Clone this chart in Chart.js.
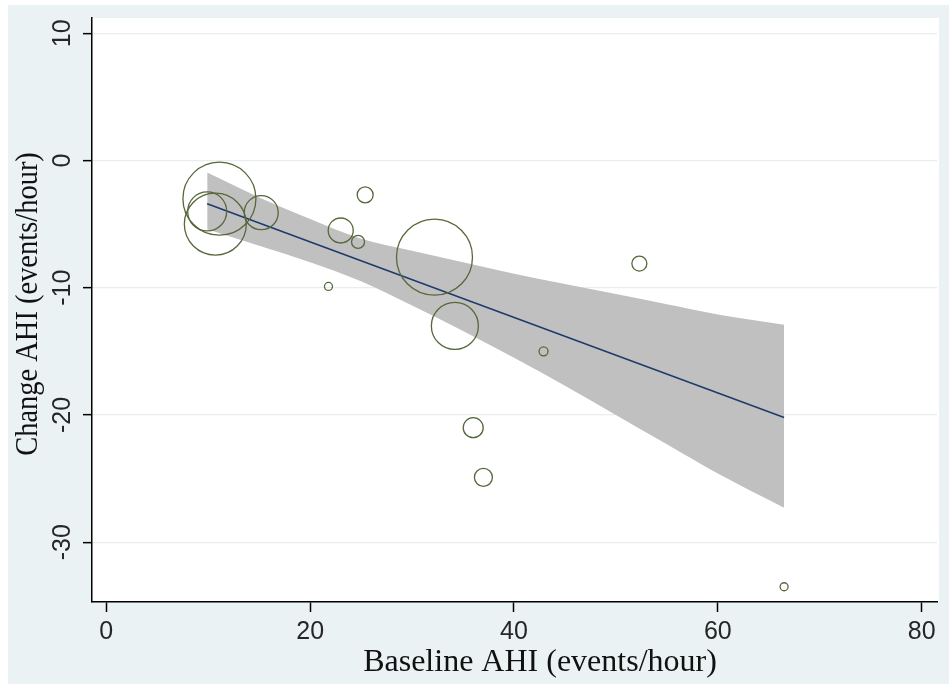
<!DOCTYPE html>
<html>
<head>
<meta charset="utf-8">
<script src="https://cdn.jsdelivr.net/npm/chart.js@4.4.1/dist/chart.umd.min.js"></script>
<style>
  html, body { margin: 0; padding: 0; background: #ffffff; }
  #wrap { width: 949px; height: 684px; }
</style>
</head>
<body>
<div id="wrap"><canvas id="chart" width="949" height="684"></canvas></div>
<script>
// one bubble per study: baseline AHI, change in AHI, weight (drawn as bubble radius)
const baselineAHI = [9.9, 10.7, 11.1, 15.2, 21.8, 23.0, 24.7, 25.4, 32.2, 34.2, 36.0, 37.0, 42.9, 52.3, 66.5];
const changeAHI = [-4.0, -5.0, -3.0, -4.1, -9.9, -5.5, -6.4, -2.7, -7.6, -13.0, -21.0, -24.9, -15.0, -8.1, -33.5];
const studyWeight = [19.5, 31, 36.5, 17, 4, 12.5, 6.5, 8, 38, 23.5, 10, 9, 4.5, 7.5, 4];

// fitted line and its 95% confidence band
const fitX = [9.9, 15, 20, 25, 30, 35, 40, 45, 50, 55, 60, 66.5];
const fitUpper = [-0.95, -2.9, -4.6, -6.15, -7.1, -8.0, -8.9, -9.7, -10.5, -11.3, -12.1, -12.9];
const fitLower = [-5.4, -6.7, -8.0, -9.5, -11.4, -13.4, -15.5, -17.7, -20.0, -22.3, -24.6, -27.3];
const lineX = [9.9, 66.5];
const lineY = [-3.4, -20.2];

const xTicks = [0, 20, 40, 60, 80];
const yTicks = [10, 0, -10, -20, -30];
const xTitle = 'Baseline AHI (events/hour)';
const yTitle = 'Change AHI (events/hour)';

const tickFont = '"Liberation Sans", Arial, sans-serif';
const titleFont = '"Liberation Serif", "Times New Roman", serif';

// light blue graph region with a white plot region, like Stata's s2color scheme
const bgPlugin = {
  id: 'stataBackground',
  beforeDraw(chart) {
    const { ctx, chartArea: a } = chart;
    ctx.save();
    ctx.fillStyle = '#ffffff';
    ctx.fillRect(0, 0, chart.width, chart.height);
    ctx.fillStyle = '#eaf2f3';
    ctx.fillRect(8, 5, chart.width - 8, chart.height - 5);
    ctx.fillStyle = '#ffffff';
    ctx.fillRect(a.left, a.top, a.right - a.left + 2, a.bottom - a.top);
    ctx.restore();
  }
};

// rotated y tick labels and both axis titles
const textPlugin = {
  id: 'axisText',
  afterDraw(chart) {
    const { ctx } = chart;
    const yScale = chart.scales.y;
    ctx.save();
    ctx.fillStyle = '#262626';
    ctx.font = '25px ' + tickFont;
    ctx.textAlign = 'center';
    ctx.textBaseline = 'alphabetic';
    yTicks.forEach(v => {
      const py = yScale.getPixelForValue(v);
      ctx.save();
      ctx.translate(70, py);
      ctx.rotate(-Math.PI / 2);
      ctx.fillText(String(v), 0, 0);
      ctx.restore();
    });

    ctx.fillStyle = '#111111';
    ctx.font = '32px ' + titleFont;
    ctx.fillText(xTitle, 540, 671);

    ctx.save();
    ctx.translate(37, 304);
    ctx.rotate(-Math.PI / 2);
    ctx.scale(0.89, 1);
    ctx.fillText(yTitle, 0, 0);
    ctx.restore();
    ctx.restore();
  }
};

new Chart(document.getElementById('chart'), {
  type: 'bubble',
  data: {
    datasets: [
      {
        type: 'line',
        label: '95% CI lower',
        data: fitX.map((x, i) => ({ x: x, y: fitLower[i] })),
        borderColor: 'rgba(0,0,0,0)',
        borderWidth: 0,
        pointRadius: 0,
        cubicInterpolationMode: 'monotone',
        fill: false,
        order: 3
      },
      {
        type: 'line',
        label: '95% CI upper',
        data: fitX.map((x, i) => ({ x: x, y: fitUpper[i] })),
        borderColor: 'rgba(0,0,0,0)',
        borderWidth: 0,
        backgroundColor: '#c0c0c0',
        pointRadius: 0,
        cubicInterpolationMode: 'monotone',
        fill: '-1',
        order: 3
      },
      {
        type: 'line',
        label: 'Fitted values',
        data: lineX.map((x, i) => ({ x: x, y: lineY[i] })),
        borderColor: '#1d3a6a',
        borderWidth: 1.5,
        pointRadius: 0,
        fill: false,
        order: 2
      },
      {
        type: 'bubble',
        label: 'Studies',
        data: baselineAHI.map((x, i) => ({ x: x, y: changeAHI[i], r: studyWeight[i] })),
        borderColor: '#56673a',
        borderWidth: 1.3,
        backgroundColor: 'rgba(0,0,0,0)',
        hoverRadius: 0,
        order: 1
      }
    ]
  },
  options: {
    responsive: false,
    animation: false,
    layout: { autoPadding: false, padding: { top: 18, right: 12, left: 0, bottom: 0 } },
    plugins: {
      legend: { display: false },
      tooltip: { enabled: false }
    },
    scales: {
      x: {
        type: 'linear',
        min: -1.4,
        max: 81.5,
        afterBuildTicks: s => { s.ticks = xTicks.map(v => ({ value: v })); },
        afterFit: s => { s.height = 82; },
        grid: {
          drawOnChartArea: false,
          drawTicks: true,
          tickLength: 10,
          tickColor: '#000000',
          tickWidth: 1.5
        },
        border: { color: '#000000', width: 1.5 },
        ticks: {
          font: { family: tickFont, size: 25 },
          color: '#262626',
          padding: 5,
          maxRotation: 0,
          autoSkip: false
        }
      },
      y: {
        type: 'linear',
        min: -34.7,
        max: 11.2,
        afterBuildTicks: s => { s.ticks = yTicks.map(v => ({ value: v })); },
        afterFit: s => { s.width = 92; },
        grid: {
          color: '#e6eef0',
          lineWidth: 1.3,
          drawTicks: true,
          tickLength: 9,
          tickColor: '#000000',
          tickWidth: 1.5
        },
        border: { color: '#000000', width: 1.5 },
        ticks: { display: false }
      }
    }
  },
  plugins: [bgPlugin, textPlugin]
});
</script>
</body>
</html>
